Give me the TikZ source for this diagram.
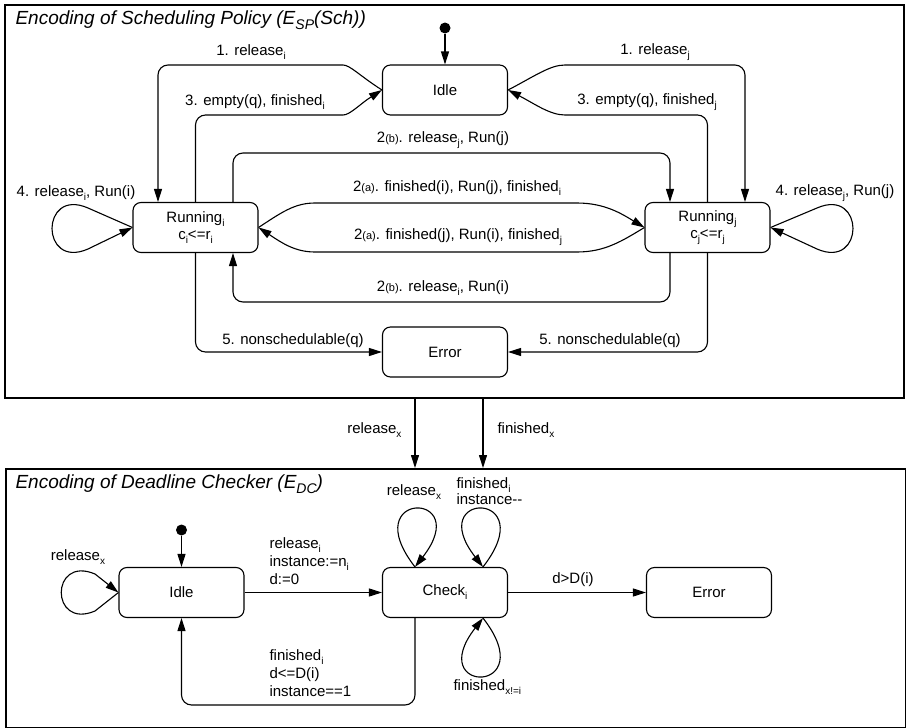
\documentclass[tikz,border=0pt]{standalone}
\usepackage{fontspec}
\setmainfont{Liberation Sans}
\usetikzlibrary{arrows.meta}
\newcommand\sbx[1]{\raisebox{-4pt}{\fontsize{10}{10}\selectfont #1}}
\newcommand\smx[1]{{\fontsize{11}{11}\selectfont #1}}
\begin{document}
\begin{tikzpicture}[x=1pt,y=-1pt,
  font=\fontsize{15}{17}\selectfont, line width=1.1pt,
  state/.style={draw, rounded corners=8pt, minimum width=125pt, minimum height=50pt, inner sep=0pt, align=center},
  frame/.style={draw, line width=1.5pt, anchor=north west, inner sep=0pt},
  arr/.style={-{Triangle[length=13pt,width=8pt]}},
  conn/.style={arr, rounded corners=10pt},
  lbl/.style={inner sep=0pt},
  ttl/.style={inner sep=0pt, anchor=west, font=\fontsize{19}{21}\selectfont\itshape},
  dot/.style={circle, fill, inner sep=0pt, minimum size=11pt}]
\useasboundingbox (0,0) rectangle (906,728);
% frames
\node[frame, minimum width=899pt, minimum height=393pt] (F1) at (4,4) {};
\node[frame, minimum width=900pt, minimum height=259pt] (F2) at (5,468) {};
\node[ttl] (t1) at (15,20) {Encoding of Scheduling Policy (E\raisebox{-5pt}{\fontsize{14}{14}\selectfont SP}(Sch))};
\node[ttl] (t2) at (15,484) {Encoding of Deadline Checker (E\raisebox{-5pt}{\fontsize{14}{14}\selectfont DC})};
% top states
\node[state] (idle) at (445,90) {Idle};
\node[state] (runi) at (195.5,227.5) {Running\sbx{i}\\c\sbx{i}<=r\sbx{i}};
\node[state] (runj) at (707.5,227.5) {Running\sbx{j}\\c\sbx{j}<=r\sbx{j}};
\node[state] (err) at (445,352) {Error};
\node[dot] (init1) at (445,28) {};
\draw[arr] (init1) -- (idle);
% 1 and 3 (i side)
\draw[conn] (idle.west) .. controls (360,76) and (350,65) .. (333,65) -| ([xshift=-37.5pt]runi.north);
\draw[conn] (runi.north) |- (333,115) .. controls (350,115) and (360,104) .. (idle.west);
% 1 and 3 (j side)
\draw[conn] (idle.east) .. controls (535,76) and (550,65) .. (575,65) -| ([xshift=37.5pt]runj.north);
\draw[conn] (runj.north) |- (575,115) .. controls (550,115) and (535,104) .. (idle.east);
% 2(b)
\draw[conn] ([xshift=37.5pt]runi.north) |- (445,153) -| ([xshift=-37.5pt]runj.north);
\draw[conn] ([xshift=-37.5pt]runj.south) |- (445,302) -| ([xshift=37.5pt]runi.south);
% 2(a)
\draw[arr] (runi.east) .. controls (282,212) and (295,203) .. (315,203) -- (577,203) .. controls (605,203) and (622,214) .. (runj.west);
\draw[arr] (runj.west) .. controls (622,241) and (605,252) .. (577,252) -- (315,252) .. controls (295,252) and (282,243) .. (runi.east);
% 5
\draw[conn] (runi.south) |- (err.west);
\draw[conn] (runj.south) |- (err.east);
% 4 loops
\draw[arr] (runi.west) -- (88,208) .. controls (40,187) and (40,270) .. (88,249) -- (runi.west);
\draw[arr] (runj.east) -- (817,208) .. controls (865,187) and (865,270) .. (817,249) -- (runj.east);
% top labels
\node[lbl] (l1i) at (251,52) {1. release\sbx{i}};
\node[lbl] (l3i) at (255,102) {3. empty(q), finished\sbx{i}};
\node[lbl] (l1j) at (655,52) {1. release\sbx{j}};
\node[lbl] (l3j) at (647,102) {3. empty(q), finished\sbx{j}};
\node[lbl] (l2bj) at (443,140) {2\smx{(b)}. release\sbx{j}, Run(j)};
\node[lbl] (l2ai) at (457,188) {2\smx{(a)}. finished(i), Run(j), finished\sbx{i}};
\node[lbl] (l2aj) at (458,237) {2\smx{(a)}. finished(j), Run(i), finished\sbx{j}};
\node[lbl] (l2bi) at (443,288) {2\smx{(b)}. release\sbx{i}, Run(i)};
\node[lbl] (l4i) at (76,193) {4. release\sbx{i}, Run(i)};
\node[lbl] (l4j) at (835,193) {4. release\sbx{j}, Run(j)};
\node[lbl] (l5i) at (293,341) {5. nonschedulable(q)};
\node[lbl] (l5j) at (610,341) {5. nonschedulable(q)};
% between frames
\coordinate (rxs) at (415,397);
\coordinate (rxe) at (415,468);
\coordinate (fxs) at (483,397);
\coordinate (fxe) at (483,468);
\draw[arr] (rxs) -- (rxe);
\draw[arr] (fxs) -- (fxe);
\node[lbl, anchor=east] (lrx) at (402,430) {release\sbx{x}};
\node[lbl, anchor=west] (lfx) at (497,430) {finished\sbx{x}};
% bottom states
\node[state] (idle2) at (181.5,592.5) {Idle};
\node[state] (check) at (445,592.5) {Check\sbx{i}};
\node[state] (err2) at (709,592.5) {Error};
\node[dot] (init2) at (181.5,530) {};
\draw[arr] (init2) -- (idle2);
\draw[arr] (idle2) -- (check);
\draw[arr] (check) -- (err2);
\draw[conn] ([xshift=-30pt]check.south) |- (300,705) -| (idle2.south);
% loops
\draw[arr] (idle2.west) -- (95,611) .. controls (50,630) and (50,555) .. (95,574) -- (idle2.west);
\draw[arr] ([xshift=-30pt]check.north) .. controls (355,490) and (475,490) .. ([xshift=-30pt]check.north);
\draw[arr] ([xshift=38pt]check.north) .. controls (543,490) and (423,490) .. ([xshift=38pt]check.north);
\draw[arr] ([xshift=38pt]check.south) .. controls (543,695) and (423,695) .. ([xshift=38pt]check.south);
% bottom labels
\node[lbl] (lrx2) at (78,557) {release\sbx{x}};
\node[lbl] (lrx3) at (414,492) {release\sbx{x}};
\node[lbl, anchor=west, align=left, font=\fontsize{15}{16.5}\selectfont] (lfi) at (456,491) {finished\sbx{i}\\instance-{}-};
\node[lbl, anchor=west] (lfx2) at (453,687) {finished\sbx{x!=i}};
\node[lbl] (ldd) at (573,580) {d>D(i)};
\node[lbl, anchor=west, align=left, font=\fontsize{15}{18}\selectfont] (lri) at (269,561) {release\sbx{i}\\instance:=n\sbx{i}\\d:=0};
\node[lbl, anchor=west, align=left, font=\fontsize{15}{18}\selectfont] (lfi2) at (269,673) {finished\sbx{i}\\d<=D(i)\\instance==1};
\end{tikzpicture}
\end{document}
